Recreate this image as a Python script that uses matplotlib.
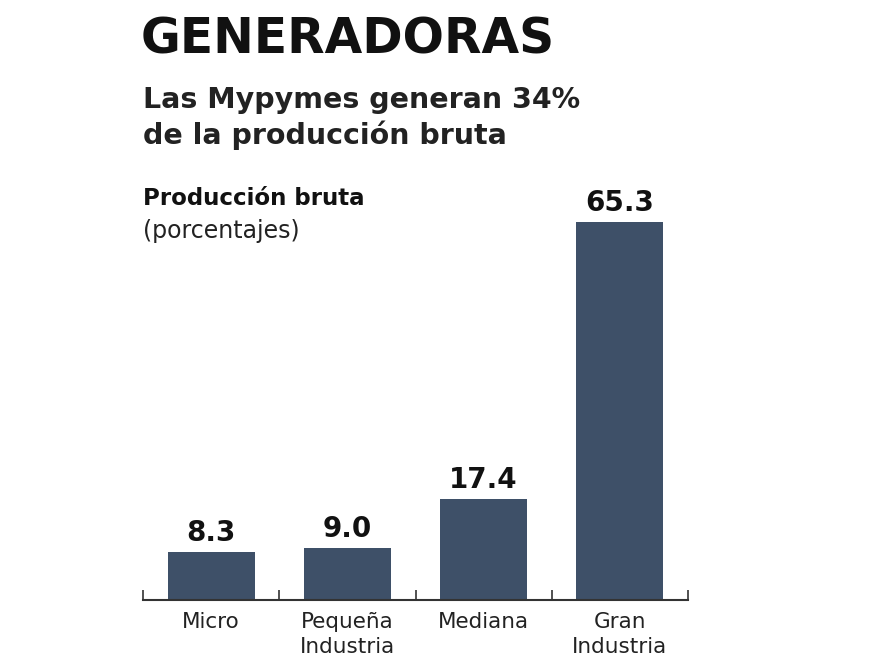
import matplotlib
matplotlib.use('Agg')
import matplotlib.pyplot as plt

categorias = ['Micro', 'Pequeña\nIndustria', 'Mediana', 'Gran\nIndustria']
valores = [8.3, 9.0, 17.4, 65.3]
etiquetas = ['8.3', '9.0', '17.4', '65.3']

plt.rcParams['font.family'] = ['DejaVu Sans']

fig = plt.figure(figsize=(8.88, 6.66), dpi=100)
ax = fig.add_axes([143/888, 1 - 600/666, 545/888, 378/666])

ax.bar(range(len(valores)), valores, width=0.64, color='#3e5068')
for i, v in enumerate(valores):
    ax.text(i, v + 0.9, etiquetas[i], ha='center', va='bottom',
            fontsize=20, fontweight='bold', color='#111111')

ax.set_xlim(-0.5, 3.5)
ax.set_ylim(0, 65.3)
ax.set_xticks(range(len(categorias)))
ax.set_xticklabels(categorias, fontsize=15.5, color='#222222', linespacing=1.3)
ax.tick_params(axis='x', which='major', length=0, pad=9)
ax.set_xticks([-0.5, 0.5, 1.5, 2.5, 3.5], minor=True)
ax.tick_params(axis='x', which='minor', direction='in', length=7, width=1.2, color='#333333')
ax.set_yticks([])
for s in ['top', 'right', 'left']:
    ax.spines[s].set_visible(False)
ax.spines['bottom'].set_linewidth(1.5)
ax.spines['bottom'].set_color('#333333')

fig.text(141/888, 1 - 40/666, 'GENERADORAS', fontsize=35, fontweight='bold',
         va='center', ha='left', color='#111111')
fig.text(143/888, 1 - 118/666, 'Las Mypymes generan 34%\nde la producción bruta',
         fontsize=20.5, fontweight='bold', va='center', ha='left', color='#222222',
         linespacing=1.25)
fig.text(143/888, 1 - 198/666, 'Producción bruta', fontsize=16.5, fontweight='bold',
         va='center', ha='left', color='#111111')
fig.text(143/888, 1 - 231/666, '(porcentajes)', fontsize=17,
         va='center', ha='left', color='#222222')

fig.savefig('out.png', dpi=100)
